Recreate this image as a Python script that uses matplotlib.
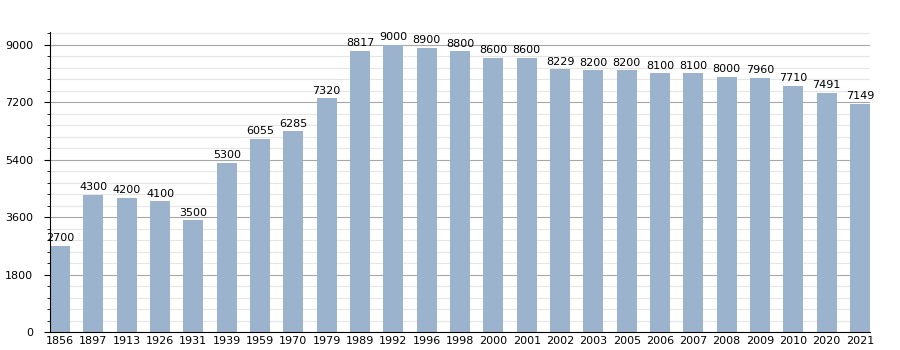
import matplotlib

matplotlib.use("Agg")
import matplotlib.pyplot as plt
from matplotlib.ticker import MultipleLocator

years = ["1856", "1897", "1913", "1926", "1931", "1939", "1959", "1970", "1979",
         "1989", "1992", "1996", "1998", "2000", "2001", "2002", "2003", "2005",
         "2006", "2007", "2008", "2009", "2010", "2020", "2021"]
population = [2700, 4300, 4200, 4100, 3500, 5300, 6055, 6285, 7320,
              8817, 9000, 8900, 8800, 8600, 8600, 8229, 8200, 8200,
              8100, 8100, 8000, 7960, 7710, 7491, 7149]

bar_w = 0.6
fig = plt.figure(figsize=(9, 3.5), dpi=100)
ax = fig.add_axes([0.0556, 0.0514, 0.9111, 0.8572])

x = list(range(len(years)))
ax.bar(x, population, width=bar_w, color="#9bb3cd", zorder=2)
for xi, v in zip(x, population):
    ax.text(xi, v + 80, str(v), ha="center", va="bottom", fontsize=8, color="black", zorder=3)

ax.set_xlim(-bar_w / 2, len(years) - 1 + bar_w / 2)
ax.set_ylim(0, 9400)
ax.set_xticks(x)
ax.set_xticklabels(years, fontsize=8)
ax.tick_params(axis="x", length=0, pad=3)

ax.yaxis.set_major_locator(MultipleLocator(1800))
ax.yaxis.set_minor_locator(MultipleLocator(360))
ax.tick_params(axis="y", which="major", length=4, labelsize=8, pad=8)
ax.tick_params(axis="y", which="minor", length=2.5)
ax.grid(axis="y", which="major", color="#a6a6a6", linewidth=0.8, zorder=0)
ax.grid(axis="y", which="minor", color="#e6e6e6", linewidth=0.8, zorder=0)
ax.set_axisbelow(True)

for side in ("top", "right"):
    ax.spines[side].set_visible(False)

fig.savefig("out.png", dpi=100)
plt.close(fig)
